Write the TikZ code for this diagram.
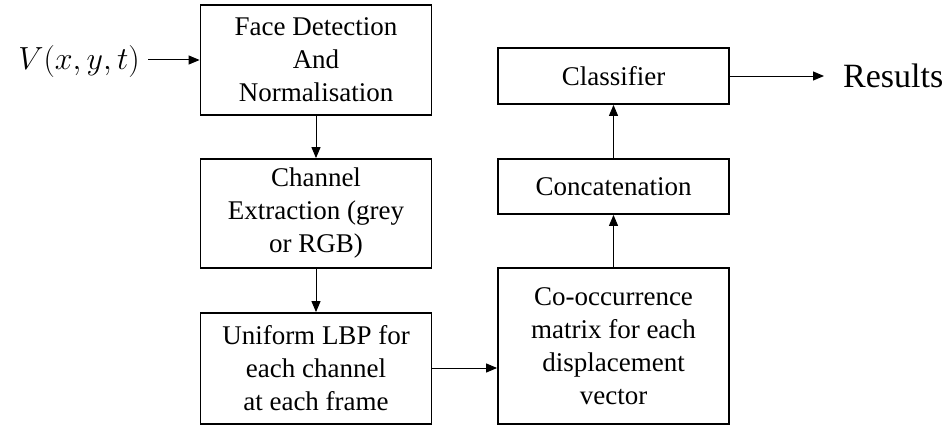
\RequirePackage{fix-cm}
\documentclass[tikz,border=0pt]{standalone}
\usepackage{fontspec}
\setmainfont{Liberation Serif}
\usetikzlibrary{arrows.meta}
\begin{document}
\begin{tikzpicture}[x=1pt,y=-1pt,
  blk/.style={draw=black, line width=1.8pt, minimum width=231pt, inner sep=0pt, align=center,
    font=\fontsize{27}{33}\selectfont},
  conn/.style={line width=1pt, -{Triangle[length=11pt,width=9pt]}}]
\useasboundingbox (0,0) rectangle (952,428);
\node[blk, minimum height=110pt] (face) at (316,60) {Face Detection\\And\\Normalisation};
\node[blk, minimum height=109pt] (chan) at (316,213.5) {Channel\\Extraction (grey\\or RGB)};
\node[blk, minimum height=111pt] (uni) at (316,368.5) {Uniform LBP for\\each channel\\at each frame};
\node[blk, minimum height=156pt] (co) at (613.5,346) {Co-occurrence\\matrix for each\\displacement\\vector};
\node[blk, minimum height=55pt] (cat) at (613.5,186.5) {Concatenation};
\node[blk, minimum height=56pt] (cls) at (613.5,76) {Classifier};
\node[inner sep=0pt, anchor=east, font=\fontsize{32}{32}\selectfont] (v) at (140,62) {$V(x,y,t)$};
\node[inner sep=0pt, anchor=west, font=\fontsize{34}{34}\selectfont] (res) at (843,76) {Results};
\coordinate (vs) at (148,60);
\coordinate (re) at (824,76);
\draw[conn] (vs) -- (vs -| face.west);
\draw[conn] (face.south) -- (chan.north);
\draw[conn] (chan.south) -- (uni.north);
\draw[conn] (uni.east |- 0,368) -- (co.west |- 0,368);
\draw[conn] (co.north) -- (cat.south);
\draw[conn] (cat.north) -- (cls.south);
\draw[conn] (cls.east) -- (re);
\end{tikzpicture}
\end{document}
